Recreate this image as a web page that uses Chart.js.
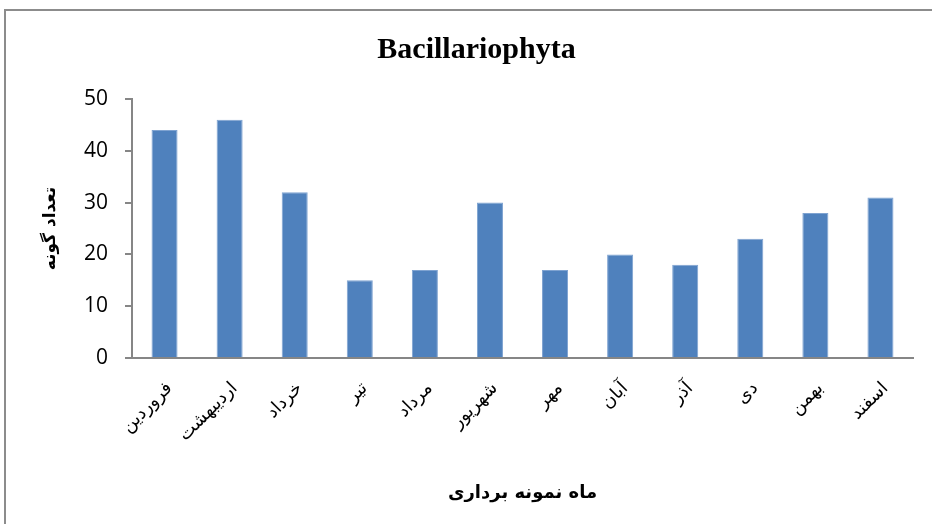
<!DOCTYPE html>
<html><head><meta charset="utf-8">
<script src="https://cdn.jsdelivr.net/npm/chart.js@4/dist/chart.umd.min.js"></script>
<style>
html,body{margin:0;padding:0;background:#fff;}
#wrap{position:relative;width:932px;height:524px;overflow:hidden;}
#frame{position:absolute;left:4px;top:9px;width:940px;height:530px;border:2px solid #8c8c8c;box-sizing:border-box;}
canvas{position:absolute;left:0;top:0;}
</style></head>
<body><div id="wrap"><div id="frame"></div><canvas id="c" width="932" height="524"></canvas></div>
<script>
const categories = ['فروردین','اردیبهشت','خرداد','تیر','مرداد','شهریور','مهر','آبان','آذر','دی','بهمن','اسفند'];
const speciesCount = [44, 46, 32, 15, 17, 30, 17, 20, 18, 23, 28, 31];
const yTicks = [0, 10, 20, 30, 40, 50];
const chartTitle = 'Bacillariophyta';
const xTitle = 'ماه نمونه برداری';
const yTitle = 'تعداد گونه';

const PAD_L = 40, PAD_R = 19, PAD_B = 20;
new Chart(document.getElementById('c'), {
  type: 'bar',
  data: { labels: categories, datasets: [{ data: speciesCount, backgroundColor: '#4F81BD', borderColor: '#7fa3d1', borderWidth: 1, categoryPercentage: 1, barPercentage: 0.4 }] },
  options: {
    responsive: false, animation: false,
    layout: { padding: { left: PAD_L, right: PAD_R, top: 0, bottom: PAD_B } },
    plugins: {
      legend: { display: false }, tooltip: { enabled: false },
      title: { display: true, text: chartTitle, color: '#000', font: { family: 'Liberation Serif', size: 30, weight: 'bold' }, padding: { top: 32, bottom: 31 } }
    },
    scales: {
      x: {
        grid: { display: false, drawOnChartArea: false },
        border: { display: true, color: '#868686', width: 2 },
        ticks: { color: '#000', font: { family: 'DejaVu Sans', size: 18 }, minRotation: 45, maxRotation: 45, padding: 12, labelOffset: 5, autoSkip: false },
        title: { display: true, text: xTitle, color: '#000', font: { family: 'DejaVu Sans', size: 18, weight: 'bold' }, padding: { top: 10, bottom: 0 } },
        afterFit(s) { s.height = 524 - PAD_B - 358; }
      },
      y: {
        min: 0, max: 50,
        afterBuildTicks(s) { s.ticks = yTicks.map(v => ({ value: v })); },
        grid: { drawOnChartArea: false, drawTicks: true, tickLength: 7, color: '#868686', lineWidth: 2 },
        border: { display: true, color: '#868686', width: 2 },
        ticks: { color: '#000', font: { family: 'Open Sans', size: 21 }, padding: 17 },
        title: { display: true, text: yTitle, color: '#000', font: { family: 'DejaVu Sans', size: 17, weight: 'bold' }, padding: { top: 0, bottom: 0 } },
        afterFit(s) { s.width = 132 - PAD_L; }
      }
    }
  }
});
</script></body></html>
